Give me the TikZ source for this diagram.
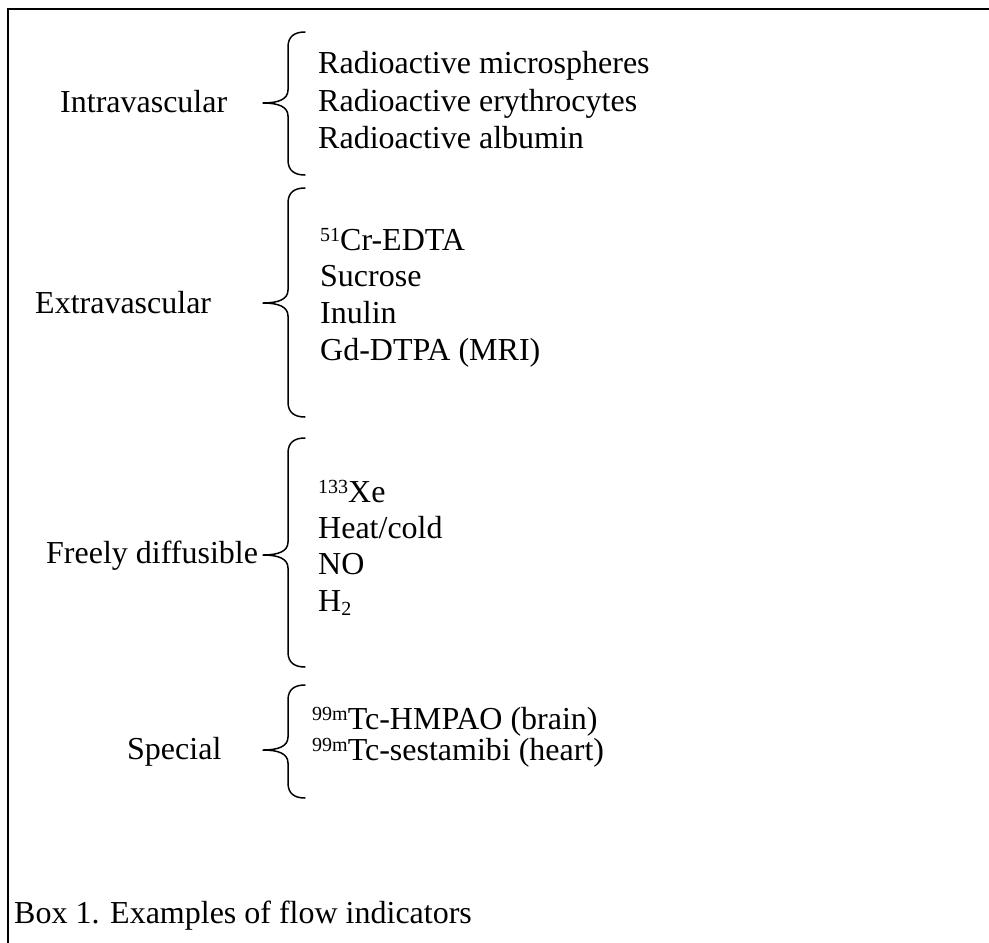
\documentclass[tikz,border=0pt]{standalone}
\usepackage{fontspec}
\setmainfont{Liberation Serif}
\usepackage{xcolor}
\usepackage{tikz}
\usetikzlibrary{positioning}
\definecolor{ink}{HTML}{000000}
\definecolor{paper}{HTML}{FFFFFF}
\tikzset{
  frame/.style={draw=ink, line width=2pt},
  brc/.style={draw=ink, line width=1.5pt, line cap=round, line join=round},
  grp/.style={text=ink, anchor=base west, inner sep=0pt},
  itm/.style={text=ink, anchor=base west, inner sep=0pt},
}
\newcommand{\sups}[1]{\raisebox{8.5pt}{\fontsize{20}{20}\selectfont #1}}
\newcommand{\subs}[1]{\raisebox{-4pt}{\fontsize{20}{20}\selectfont #1}}
% #1 top, #2 bottom, #3 tip (y grows downwards)
\newcommand{\indbrace}[3]{%
  \draw[brc] (305,#1) .. controls (295,#1) and (288,#1+4) .. (288,#1+15)
    -- (288,#3-13) .. controls (288,#3-4) and (279,#3) .. (263,#3)
    .. controls (279,#3) and (288,#3+4) .. (288,#3+13)
    -- (288,#2-15) .. controls (288,#2-4) and (295,#2) .. (305,#2);}

\begin{document}
\begin{tikzpicture}[x=1pt, y=-1pt, font=\fontsize{32}{38}\selectfont]
\useasboundingbox[fill=paper] (0,0) rectangle (989,943);
\draw[frame] (8,943) -- (8,9) -- (989,9);

\node[grp] (intra) at (60,112) {Intravascular};
\indbrace{32}{175}{103}
\node[itm] (micro) at (318,73) {Radioactive microspheres};
\node[itm] (eryth) at (318,111) {Radioactive erythrocytes};
\node[itm] (album) at (318,148) {Radioactive albumin};

\node[grp] (extra) at (35,313) {Extravascular};
\indbrace{188}{417}{303}
\node[itm] (cr) at (320,250) {\sups{51}Cr-EDTA};
\node[itm] (sucr) at (320,286) {Sucrose};
\node[itm] (inul) at (320,323) {Inulin};
\node[itm] (gd) at (320,360) {Gd-DTPA (MRI)};

\node[grp] (free) at (46,563) {Freely diffusible};
\indbrace{438}{667}{555}
\node[itm] (xe) at (318,502) {\sups{133}Xe};
\node[itm] (heat) at (318,538) {Heat/cold};
\node[itm] (no) at (318,574) {NO};
\node[itm] (hyd) at (318,611) {H\subs{2}};

\node[grp] (spec) at (127,759) {Special};
\indbrace{685}{798}{750}
\node[itm] (hmpao) at (312,729) {\sups{99m}Tc-HMPAO (brain)};
\node[itm] (sesta) at (312,760) {\sups{99m}Tc-sestamibi (heart)};

\node[grp] (cap) at (14,923) {Box 1. Examples of flow indicators};
\end{tikzpicture}
\end{document}
